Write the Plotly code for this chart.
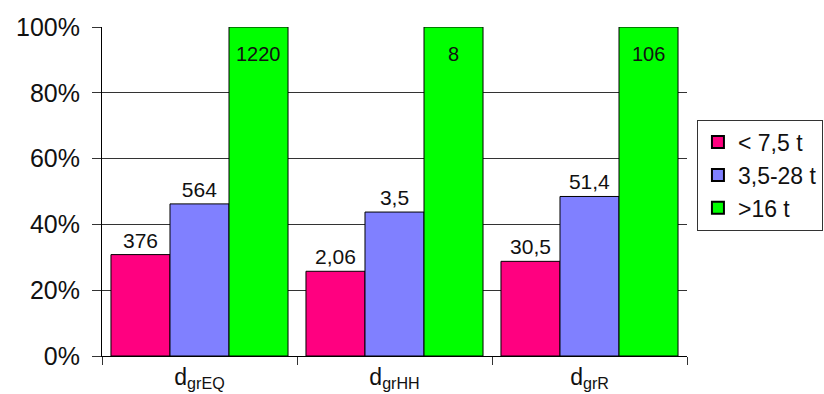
import plotly.graph_objects as go

# Groups and absolute values per weight class
categories = ["d<sub>grEQ</sub>", "d<sub>grHH</sub>", "d<sub>grR</sub>"]
series_names = ["< 7,5 t", "3,5-28 t", ">16 t"]
light = [376, 2.06, 30.5]
medium = [564, 3.5, 51.4]
heavy = [1220, 8, 106]
light_labels = ["376", "2,06", "30,5"]
medium_labels = ["564", "3,5", "51,4"]
heavy_labels = ["1220", "8", "106"]
colors = ["#FF0080", "#8080FF", "#00FF00"]

BARGAP = 0.092

# Each group is normalised to its largest value (100%)
group_max = [max(a, b, c) for a, b, c in zip(light, medium, heavy)]


def pct(values):
    return [v / m * 100 for v, m in zip(values, group_max)]


font = "Liberation Sans, Arial, sans-serif"
fig = go.Figure()
for name, vals, labels, col in zip(
    series_names,
    [light, medium, heavy],
    [light_labels, medium_labels, heavy_labels],
    colors,
):
    is_top = name == ">16 t"
    fig.add_trace(
        go.Bar(
            name=name,
            x=categories,
            y=pct(vals),
            text=None if is_top else labels,
            textposition="outside",
            outsidetextfont=dict(family=font, size=21, color="#111"),
            cliponaxis=False,
            marker=dict(color=col, line=dict(color="black", width=1)),
        )
    )

# Labels for the tallest bars sit just inside their tops
bar_w = (1 - BARGAP) / 3
for i, (lab, val) in enumerate(zip(heavy_labels, pct(heavy))):
    fig.add_annotation(
        x=i + bar_w,
        y=val,
        xref="x",
        yref="y",
        text=lab,
        showarrow=False,
        yanchor="top",
        yshift=-14,
        font=dict(family=font, size=20, color="#111"),
    )

fig.update_layout(
    width=824,
    height=394,
    margin=dict(l=102, r=137, t=27, b=38, autoexpand=False),
    paper_bgcolor="white",
    plot_bgcolor="white",
    barmode="group",
    bargap=BARGAP,
    bargroupgap=0,
    font=dict(family=font, color="#111"),
    legend=dict(
        x=1.017,
        xanchor="left",
        y=0.55,
        yanchor="middle",
        bordercolor="#333",
        borderwidth=1,
        font=dict(family=font, size=23, color="#111"),
        tracegroupgap=0,
        itemsizing="constant",
    ),
    showlegend=True,
)

fig.update_yaxes(
    range=[0, 100],
    tickvals=[0, 20, 40, 60, 80, 100],
    ticktext=["0%", "20%", "40%", "60%", "80%", "100%"],
    tickfont=dict(family=font, size=25, color="#111"),
    showgrid=True,
    gridcolor="#333",
    gridwidth=1,
    ticks="outside",
    ticklen=9,
    tickcolor="#333",
    showline=True,
    linecolor="black",
    linewidth=1,
    zeroline=False,
    ticklabelstandoff=7,
    automargin=False,
)
fig.update_xaxes(
    tickson="boundaries",
    ticks="outside",
    ticklen=8,
    tickcolor="#333",
    showline=True,
    linecolor="black",
    linewidth=1,
    tickfont=dict(family=font, size=23, color="#111"),
    ticklabelstandoff=0,
    automargin=False,
)

fig.write_html("out.html")
